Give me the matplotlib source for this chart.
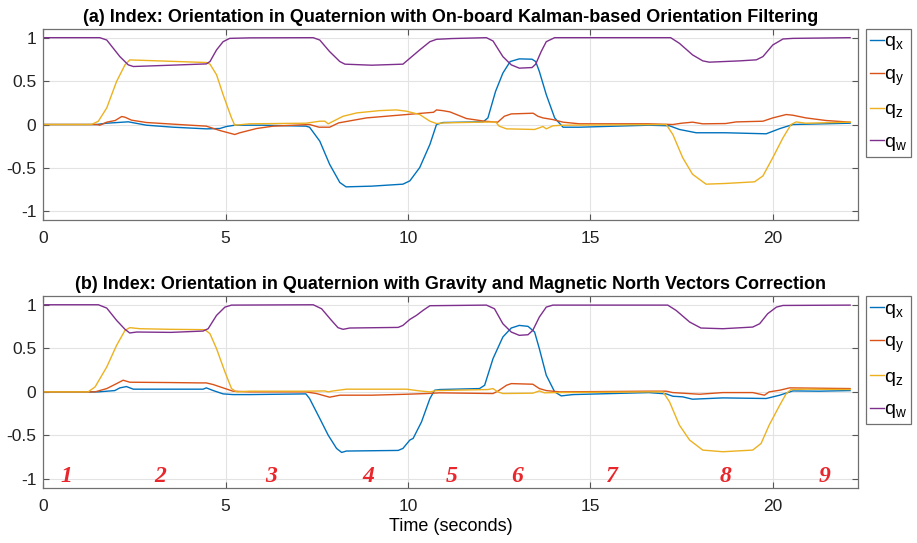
import matplotlib
matplotlib.use("Agg")
import matplotlib.pyplot as plt

# ---- data ----
# (a) on-board Kalman filter
a_qx_t = [0, 1.46, 1.74, 2.33, 2.83, 3.56, 4.47, 4.84, 5.02, 5.25, 6.0, 7.2, 7.3, 7.58, 7.85, 8.13, 8.3, 9.0, 9.86,
          10.05, 10.32, 10.6, 10.78, 10.96, 12.06, 12.19, 12.4, 12.6, 12.8, 13.05, 13.4, 13.5, 13.6, 13.79, 14.02,
          14.25, 14.7, 16.6, 17.17, 17.44, 17.9, 18.7, 19.82, 20.2, 20.55, 22.12]
a_qx_v = [0, 0, 0.015, 0.031, -0.008, -0.031, -0.05, -0.046, -0.023, -0.008, -0.008, -0.019, -0.031, -0.191,
          -0.458, -0.668, -0.718, -0.71, -0.687, -0.649, -0.496, -0.229, 0, 0.023, 0.031, 0.076, 0.382, 0.592,
          0.725, 0.756, 0.752, 0.725, 0.611, 0.344, 0.076, -0.031, -0.031, -0.008, -0.015, -0.057, -0.095,
          -0.095, -0.107, -0.046, 0, 0.015]
a_qy_t = [0, 1.46, 1.55, 1.74, 1.97, 2.15, 2.24, 2.42, 2.83, 3.56, 4.47, 4.84, 5.25, 5.39, 5.85, 6.3, 7.3, 7.56,
          7.85, 8.1, 8.86, 9.96, 10.7, 10.78, 10.95, 11.15, 11.6, 12.1, 12.46, 12.64, 12.83, 13.43, 13.56, 13.7,
          13.97, 14.25, 14.7, 16.6, 17.26, 17.5, 17.8, 18.08, 18.7, 19.0, 19.73, 20.0, 20.37, 20.55, 20.91, 21.46,
          22.12]
a_qy_v = [0, 0, -0.008, 0.027, 0.046, 0.092, 0.084, 0.05, 0.023, 0.004, -0.019, -0.069, -0.115, -0.095, -0.046,
          -0.019, 0, -0.031, -0.031, 0.019, 0.076, 0.115, 0.141, 0.168, 0.16, 0.145, 0.069, 0.038, 0.027, 0.095,
          0.122, 0.13, 0.095, 0.076, 0.057, 0.027, 0.008, 0.008, 0, 0.015, 0.027, 0.008, 0.011, 0.03, 0.038,
          0.076, 0.115, 0.107, 0.076, 0.046, 0.027]
a_qz_t = [0, 1.32, 1.51, 1.74, 2.01, 2.24, 2.37, 2.65, 4.47, 4.57, 4.75, 4.93, 5.16, 5.25, 5.66, 7.2, 7.58, 7.72,
          7.81, 7.95, 8.22, 8.6, 9.22, 9.68, 9.96, 10.32, 10.6, 10.78, 11.0, 12.4, 12.5, 12.7, 13.47, 13.6, 13.7,
          13.79, 13.97, 14.25, 17.08, 17.26, 17.53, 17.8, 18.17, 18.7, 19.5, 19.73, 20.0, 20.28, 20.5, 20.64,
          20.9, 22.12]
a_qz_v = [0, 0, 0.038, 0.191, 0.496, 0.687, 0.744, 0.74, 0.714, 0.695, 0.573, 0.344, 0.076, -0.008, 0.008,
          0.015, 0.038, 0.038, 0.008, 0.038, 0.095, 0.134, 0.16, 0.168, 0.153, 0.115, 0.038, 0.011, 0.019, 0.03,
          -0.019, -0.05, -0.057, -0.038, -0.023, -0.05, -0.015, -0.008, 0, -0.115, -0.382, -0.573, -0.687,
          -0.679, -0.66, -0.592, -0.382, -0.153, 0, 0.03, 0.015, 0.027]
a_qw_t = [0, 1.55, 1.74, 2.10, 2.33, 2.47, 3.5, 4.47, 4.57, 4.75, 4.93, 5.11, 5.66, 7.4, 7.58, 7.85, 8.13, 8.27,
          9.0, 9.86, 10.0, 10.32, 10.6, 10.78, 11.2, 12.15, 12.33, 12.6, 12.83, 13.05, 13.4, 13.5, 13.65, 13.79,
          14.02, 17.2, 17.44, 17.8, 18.08, 18.26, 19.1, 19.55, 19.73, 20.0, 20.28, 20.55, 22.12]
a_qw_v = [1.0, 1.0, 0.973, 0.782, 0.687, 0.668, 0.683, 0.698, 0.725, 0.859, 0.954, 0.992, 0.998, 1.0, 0.973,
          0.84, 0.725, 0.695, 0.683, 0.695, 0.745, 0.859, 0.954, 0.981, 0.99, 1.0, 0.962, 0.782, 0.687, 0.649,
          0.656, 0.695, 0.84, 0.954, 1.0, 1.0, 0.935, 0.802, 0.733, 0.718, 0.733, 0.745, 0.782, 0.916, 0.985,
          0.992, 1.0]

# (b) gravity + magnetic north correction
b_qx_t = [0, 1.51, 1.96, 2.1, 2.28, 2.47, 3.5, 4.38, 4.47, 4.66, 4.93, 5.2, 5.66, 7.2, 7.3, 7.58, 7.81, 8.04,
          8.18, 8.31, 9.73, 9.86, 10.05, 10.14, 10.37, 10.6, 10.73, 10.87, 11.96, 12.1, 12.33, 12.6, 12.83, 13.05,
          13.29, 13.47, 13.6, 13.79, 14.02, 14.2, 14.52, 16.6, 17.08, 17.26, 17.53, 17.8, 18.63, 19.82, 20.19,
          20.55, 21.28, 22.12]
b_qx_v = [0, 0, 0.015, 0.046, 0.061, 0.031, 0.031, 0.031, 0.046, 0.015, -0.023, -0.031, -0.031, -0.023, -0.076,
          -0.305, -0.496, -0.649, -0.695, -0.679, -0.672, -0.649, -0.553, -0.534, -0.344, -0.076, 0.019, 0.027,
          0.038, 0.076, 0.382, 0.63, 0.733, 0.763, 0.752, 0.687, 0.496, 0.191, 0, -0.046, -0.031, -0.008, -0.023,
          -0.05, -0.057, -0.084, -0.069, -0.076, -0.038, 0.011, 0.008, 0.015]
b_qy_t = [0, 1.42, 1.74, 2.01, 2.19, 2.37, 3.5, 4.29, 4.47, 4.66, 4.93, 5.2, 5.66, 7.2, 7.49, 7.85, 8.13, 9.0,
          9.96, 10.5, 10.87, 12.33, 12.46, 12.7, 12.83, 13.42, 13.6, 13.79, 14.16, 16.6, 17.08, 17.26, 17.99,
          18.63, 19.45, 19.77, 19.9, 20.19, 20.46, 22.12]
b_qy_v = [0, 0, 0.038, 0.095, 0.134, 0.111, 0.107, 0.103, 0.103, 0.084, 0.046, 0.008, 0, 0, -0.019, -0.061,
          -0.038, -0.038, -0.027, -0.019, -0.011, -0.019, 0.008, 0.076, 0.095, 0.088, 0.038, 0.015, 0, 0.008,
          0.008, -0.008, -0.027, -0.008, -0.008, -0.038, 0, 0.019, 0.046, 0.038]
b_qz_t = [0, 1.23, 1.42, 1.74, 2.01, 2.24, 2.37, 2.65, 3.5, 4.43, 4.57, 4.75, 4.98, 5.16, 5.3, 5.66, 7.2, 7.72,
          7.81, 7.95, 8.31, 9.96, 10.32, 10.6, 10.78, 12.19, 12.33, 12.46, 12.6, 13.42, 13.6, 13.74, 14.02, 16.6,
          16.99, 17.17, 17.44, 17.72, 18.08, 18.63, 19.45, 19.68, 19.9, 20.19, 20.37, 20.5, 20.9, 22.12]
b_qz_v = [0, 0, 0.057, 0.286, 0.534, 0.706, 0.737, 0.725, 0.718, 0.714, 0.668, 0.496, 0.229, 0.038, 0, 0.008,
          0.008, 0.011, 0, 0.011, 0.031, 0.031, 0.011, 0, 0.015, 0.027, 0.038, 0, -0.019, -0.015, 0.011, -0.011,
          -0.008, 0, 0, -0.115, -0.382, -0.553, -0.668, -0.687, -0.668, -0.592, -0.382, -0.153, -0.019, 0.027,
          0.031, 0.027]
b_qw_t = [0, 1.51, 1.74, 2.01, 2.24, 2.37, 2.56, 3.5, 4.38, 4.52, 4.75, 4.98, 5.16, 7.4, 7.63, 7.9, 8.08, 8.22,
          8.4, 9.73, 9.86, 10.05, 10.23, 10.41, 10.6, 12.15, 12.37, 12.6, 12.83, 13.05, 13.29, 13.42, 13.6, 13.79,
          13.97, 17.12, 17.35, 17.72, 18.03, 18.63, 19.45, 19.64, 19.86, 20.1, 20.28, 22.12]
b_qw_v = [1.0, 1.0, 0.962, 0.821, 0.718, 0.676, 0.687, 0.683, 0.698, 0.725, 0.878, 0.973, 0.996, 1.0, 0.954,
          0.821, 0.737, 0.718, 0.733, 0.74, 0.763, 0.832, 0.878, 0.935, 0.989, 0.996, 0.954, 0.782, 0.687, 0.649,
          0.656, 0.706, 0.859, 0.973, 0.996, 0.996, 0.935, 0.802, 0.733, 0.725, 0.744, 0.782, 0.897, 0.973,
          0.992, 0.996]

phase_labels = ["1", "2", "3", "4", "5", "6", "7", "8", "9"]
phase_t = [0.64, 3.2, 6.26, 8.9, 11.19, 12.99, 15.59, 18.7, 21.42]

titles = ["(a) Index: Orientation in Quaternion with On-board Kalman-based Orientation Filtering",
          "(b) Index: Orientation in Quaternion with Gravity and Magnetic North Vectors Correction"]
legend_labels = [r"q$_\mathregular{x}$", r"q$_\mathregular{y}$", r"q$_\mathregular{z}$", r"q$_\mathregular{w}$"]
colors = ["#0072BD", "#D95319", "#EDB120", "#7E2F8E"]

plt.rcParams["font.family"] = ["Liberation Sans", "DejaVu Sans"]
plt.rcParams["mathtext.fontset"] = "custom"
plt.rcParams["mathtext.rm"] = "Liberation Sans"

fig = plt.figure(figsize=(9.17, 5.43), dpi=100)
ax_a = fig.add_axes([0.0472, 0.5948, 0.889, 0.3518])
ax_b = fig.add_axes([0.0472, 0.1018, 0.889, 0.3530])

panels = [
    (ax_a, [(a_qx_t, a_qx_v), (a_qy_t, a_qy_v), (a_qz_t, a_qz_v), (a_qw_t, a_qw_v)]),
    (ax_b, [(b_qx_t, b_qx_v), (b_qy_t, b_qy_v), (b_qz_t, b_qz_v), (b_qw_t, b_qw_v)]),
]

for i, (ax, series) in enumerate(panels):
    for (t, v), c, lab in zip(series, colors, legend_labels):
        ax.plot(t, v, color=c, lw=1.0, label=lab)
    ax.set_xlim(0, 22.35)
    ax.set_ylim(-1.1, 1.1)
    ax.set_xticks([0, 5, 10, 15, 20])
    ax.set_xticklabels(["0", "5", "10", "15", "20"])
    ax.set_yticks([-1, -0.5, 0, 0.5, 1])
    ax.set_yticklabels(["-1", "-0.5", "0", "0.5", "1"])
    ax.grid(True, color="#e3e3e3", lw=0.8)
    ax.set_axisbelow(True)
    ax.tick_params(direction="in", top=True, right=True, length=4, width=0.8,
                   color="#555555", labelsize=12.5, labelcolor="#222222")
    ax.tick_params(axis="x", pad=8)
    ax.tick_params(axis="y", pad=5)
    for s in ax.spines.values():
        s.set_color("#707070")
        s.set_linewidth(0.9)
    ax.set_title(titles[i], fontsize=13, fontweight="bold", pad=5)
    leg = ax.legend(loc="upper left", bbox_to_anchor=(1.009, 1.0), borderaxespad=0,
                    fontsize=14, handlelength=0.75, handletextpad=0.0, labelspacing=0.68,
                    borderpad=0.2, fancybox=False, framealpha=1)
    leg.get_frame().set_edgecolor("#707070")
    leg.get_frame().set_linewidth(0.9)

for lab, t in zip(phase_labels, phase_t):
    ax_b.text(t, -0.97, lab, color="#E8262B", fontsize=17, fontweight="bold", fontstyle="italic",
              family=["Liberation Serif", "DejaVu Serif"], ha="center", va="center")

ax_b.set_xlabel("Time (seconds)", fontsize=13, labelpad=3)

fig.savefig("out.png", dpi=100)
